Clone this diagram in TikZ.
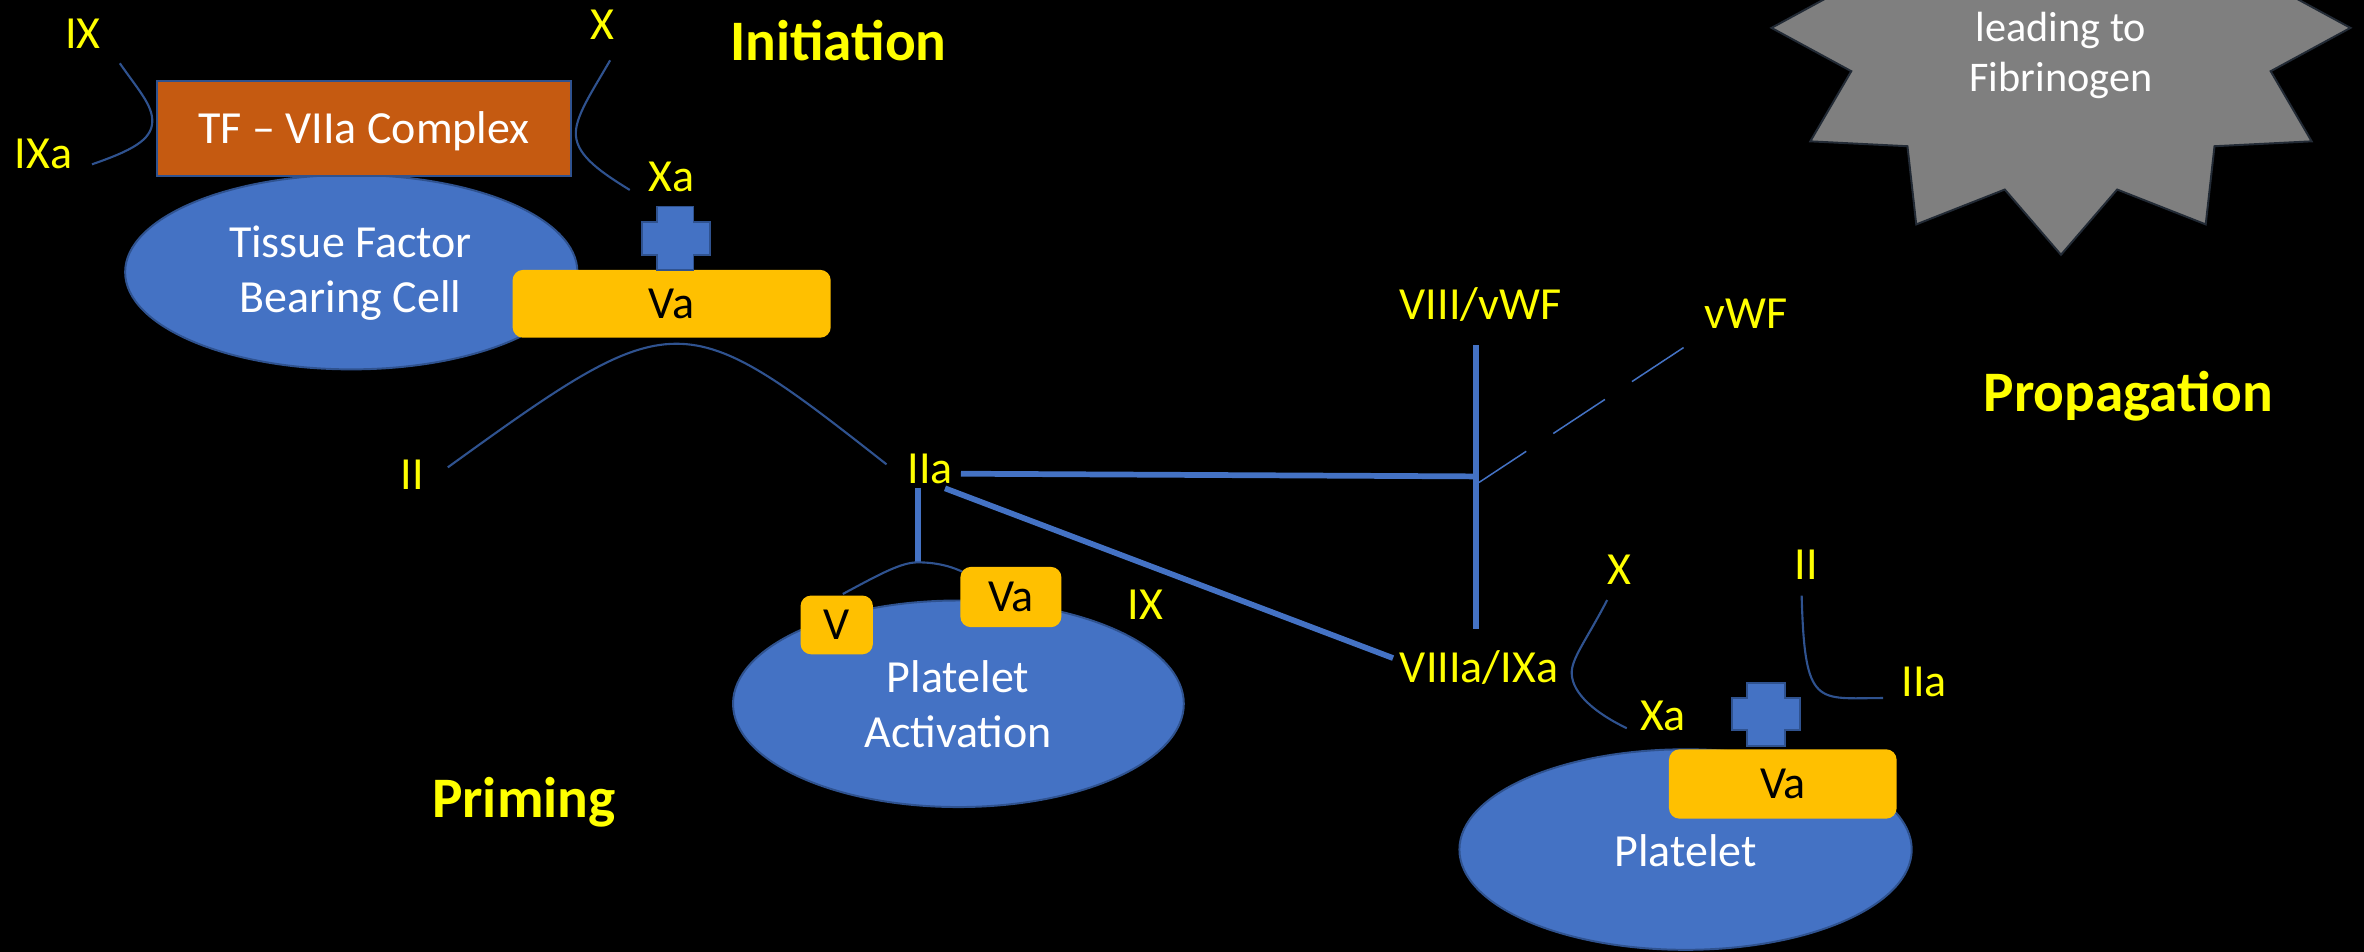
\documentclass[tikz,border=0pt]{standalone}
\usepackage{fontspec}
\setmainfont{Carlito}
\usetikzlibrary{shapes.geometric}

\definecolor{cellblue}{HTML}{4472C4}
\definecolor{edgeblue}{HTML}{2F528F}
\definecolor{tforange}{HTML}{C55A11}
\definecolor{gold}{HTML}{FFC000}
\definecolor{labelyellow}{HTML}{FFFF00}
\definecolor{burstgray}{HTML}{7F7F7F}
\definecolor{burstedge}{HTML}{222A35}

% two centred lines whose baseline is the first line
\newcommand\stacked[2]{\begin{tabular}[t]{@{}c@{}}#1\\#2\end{tabular}}

\begin{document}
\begin{tikzpicture}[x=1pt,y=-1pt,
  cell/.style={ellipse, draw=edgeblue, line width=1.3pt, fill=cellblue, inner sep=0pt},
  celltext/.style={text=white, anchor=base, inner sep=0pt},
  factor/.style={rectangle, rounded corners=7pt, fill=gold, text=black,
    font=\fontsize{30.5}{36.5}\selectfont, inner sep=0pt, text height=19.6pt, text depth=0pt},
  lab/.style={text=labelyellow, font=\fontsize{30.5}{36.5}\selectfont, anchor=base, inner sep=0pt},
  phase/.style={text=labelyellow, font=\fontsize{38}{45}\selectfont\bfseries, anchor=base, inner sep=0pt},
  reaction/.style={draw=edgeblue, line width=1.4pt},
  link/.style={draw=cellblue, line width=3.8pt},
  plus/.style={fill=cellblue, draw=edgeblue, line width=1.2pt}
]
\useasboundingbox (0,0) rectangle (1568,630.8);
% black slide background, a little larger than the page so no edge shows
\fill[black] (-4,-4) rectangle (1572,635);

% starburst in the top right corner
\begin{scope}
  \clip (0,0) rectangle (1568,630.8);
  \filldraw[fill=burstgray, draw=burstedge, line width=1.3pt]
    plot[samples at={0,1,...,23}, variable=\k]
      ({1367+ifthenelse(mod(\k,2)==0,192,144)*sin(\k*15)},
       {18.5+ifthenelse(mod(\k,2)==0,150.5,111)*cos(\k*15)}) -- cycle;
\end{scope}
\node[celltext, font=\fontsize{28}{33.2}\selectfont] (burst-text) at (1367,27.8)
  {\stacked{leading to}{Fibrinogen}};

% ---------- initiation: tissue factor bearing cell ----------
\node[cell, minimum width=300pt, minimum height=129pt] (tfcell) at (233,180.5) {};
\node[celltext, font=\fontsize{30.5}{36.5}\selectfont] (tfcell-text) at (232.5,170.5)
  {\stacked{Tissue Factor}{Bearing Cell}};
\node[rectangle, fill=tforange, draw=edgeblue, line width=1.4pt, text=white,
  font=\fontsize{30.5}{36.5}\selectfont, inner sep=0pt, text height=19.6pt, text depth=0pt,
  minimum width=275pt, minimum height=63pt] (tfbox) at (241.5,85.5) {TF – VIIa Complex};
\node[factor, minimum width=211pt, minimum height=45pt] (va-top) at (445.5,201.5) {Va};
\filldraw[plus] (436,137) -- (460,137) -- (460,147) -- (471,147) -- (471,169) -- (460,169)
  -- (460,179) -- (436,179) -- (436,169) -- (426,169) -- (426,147) -- (436,147) -- cycle;

\node[lab] (ix-top) at (55,32) {IX};
\node[lab] (ixa) at (29,111.6) {IXa};
\node[lab] (x-top) at (399.8,26.5) {X};
\node[lab] (xa-top) at (445.5,127) {Xa};
\node[phase] (initiation) at (556,39.8) {Initiation};

\coordinate (ix-in) at (79.5,42);
\coordinate (ix-out) at (61,109);
\draw[reaction] (ix-in) .. controls (92,60) and (101.5,70) .. (101,81)
  .. controls (100.5,93) and (87,100) .. (ix-out);
\coordinate (x-in) at (404.7,40);
\coordinate (x-out) at (417.7,126);
\draw[reaction] (x-in) .. controls (392,62) and (381,78) .. (382,90)
  .. controls (383,104) and (400,115) .. (x-out);

% prothrombin to thrombin
\node[lab] (ii-left) at (273.6,325) {II};
\node[lab] (iia) at (617,320.6) {IIa};
\coordinate (ii-in) at (297,310);
\coordinate (iia-in) at (588,308);
\draw[reaction] (ii-in) .. controls (448,201) and (452,201) .. (iia-in);

% ---------- priming: platelet activation ----------
\node[cell, minimum width=299pt, minimum height=137pt] (actcell) at (635.7,466.8) {};
\node[celltext, font=\fontsize{30.5}{37}\selectfont] (actcell-text) at (635.5,459)
  {\stacked{Platelet}{Activation}};
\coordinate (iia-stem) at (608.8,323.5);
\coordinate (fork) at (608.8,373);
\coordinate (fork-v) at (559,394);
\coordinate (fork-va) at (640,380);
\draw[link] (iia-stem) -- (fork);
\draw[reaction] (fork-v) .. controls (585,380) and (598,373) .. (fork)
  .. controls (622,373) and (632,376) .. (fork-va);
\node[factor, minimum width=48pt, minimum height=39pt] (v-box) at (555,414.5) {V};
\node[factor, minimum width=67pt, minimum height=40pt] (va-act) at (670.5,396) {Va};
\node[lab] (ix-mid) at (759.8,410.8) {IX};
\node[phase] (priming) at (347.5,542) {Priming};

% ---------- thrombin feedback to VIII / vWF ----------
\node[lab] (viii) at (982,212.2) {VIII/vWF};
\node[lab] (vwf) at (1158,217.8) {vWF};
\node[lab] (viiia) at (981,453) {VIIIa/IXa};
\node[phase] (propagation) at (1411.6,273) {Propagation};

\coordinate (viii-top) at (979,229);
\coordinate (viii-bottom) at (979,417);
\coordinate (hub) at (979,316);
\coordinate (iia-right) at (637.4,314.2);
\coordinate (iia-diag) at (626.8,323.9);
\coordinate (viiia-in) at (924,436.5);
\coordinate (split) at (981,320);
\coordinate (vwf-in) at (1119,229);
\draw[link] (viii-top) -- (viii-bottom);
\draw[link] (iia-right) -- (hub);
\draw[link] (iia-diag) -- (viiia-in);
\draw[draw=cellblue, line width=1pt, dash pattern=on 41pt off 21.5pt, dash phase=3.5pt]
  (split) -- (vwf-in);

% ---------- propagation: platelet surface ----------
\node[cell, minimum width=300pt, minimum height=133pt] (platcell) at (1118,563.5) {};
\node[celltext, font=\fontsize{30.5}{36.5}\selectfont] (platcell-text) at (1118,574.5) {Platelet};
\node[factor, minimum width=151pt, minimum height=46pt] (va-plat) at (1182.5,520) {Va};
\filldraw[plus] (1159,453) -- (1184,453) -- (1184,463) -- (1194,463) -- (1194,484) -- (1184,484)
  -- (1184,495) -- (1159,495) -- (1159,484) -- (1149,484) -- (1149,463) -- (1159,463) -- cycle;

\node[lab] (x-low) at (1074,388) {X};
\node[lab] (xa-low) at (1103,484.2) {Xa};
\node[lab] (ii-low) at (1198,384.7) {II};
\node[lab] (iia-low) at (1276.4,462) {IIa};

\coordinate (xl-in) at (1066,398);
\coordinate (xl-out) at (1079,483);
\draw[reaction] (xl-in) .. controls (1052,425) and (1042,437) .. (1042.5,447)
  .. controls (1043,460) and (1058,473) .. (xl-out);
\coordinate (iil-in) at (1195,395);
\coordinate (iil-out) at (1249,463);
\draw[reaction] (iil-in) .. controls (1197,470) and (1205,463) .. (iil-out);
\end{tikzpicture}
\end{document}
